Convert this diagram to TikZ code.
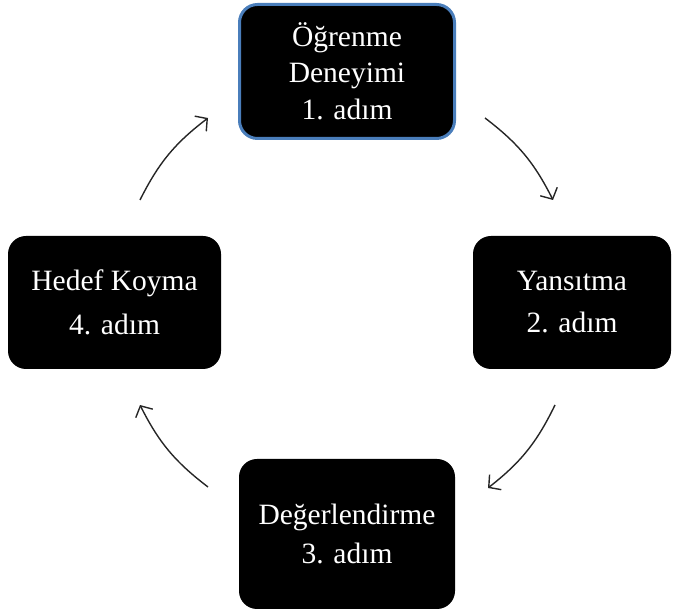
\documentclass[tikz,border=0pt]{standalone}
\usepackage{fontspec}
\setmainfont{Liberation Serif}
\usetikzlibrary{arrows.meta}
\begin{document}
\begin{tikzpicture}[x=1pt,y=1pt,
  stepbox/.style={fill=black, rounded corners=18pt, text=white, align=center,
    inner sep=0pt, font=\fontsize{29.5}{36}\selectfont},
  cyc/.style={line width=1.4pt, draw=black!85, -{Straight Barb[length=8.5pt,width=19pt,line width=1.4pt]}, bend left=13}]
\useasboundingbox (0,0) rectangle (674,612);
\node[stepbox, draw={rgb,255:red,74;green,126;blue,187}, line width=3pt,
  minimum width=215pt, minimum height=134pt] (s1) at (347,540.5)
  {Öğrenme\\Deneyimi\\[1pt]1. adım};
\node[stepbox, minimum width=198pt, minimum height=133pt] (s2) at (572,309.5)
  {Yansıtma\\[6pt]2. adım};
\node[stepbox, minimum width=216pt, minimum height=150pt] (s3) at (347,78)
  {Değerlendirme\\[3pt]3. adım};
\node[stepbox, minimum width=213pt, minimum height=133pt] (s4) at (114.5,309.5)
  {Hedef Koyma\\[8pt]4. adım};
\coordinate (a1s) at (485,494);
\coordinate (a1e) at (553,412);
\coordinate (a2s) at (555,207);
\coordinate (a2e) at (488,124);
\coordinate (a3s) at (208,125);
\coordinate (a3e) at (140,207);
\coordinate (a4s) at (140,412);
\coordinate (a4e) at (208,494);
\draw[cyc] (a1s) to (a1e);
\draw[cyc] (a2s) to (a2e);
\draw[cyc] (a3s) to (a3e);
\draw[cyc] (a4s) to (a4e);
\end{tikzpicture}
\end{document}
